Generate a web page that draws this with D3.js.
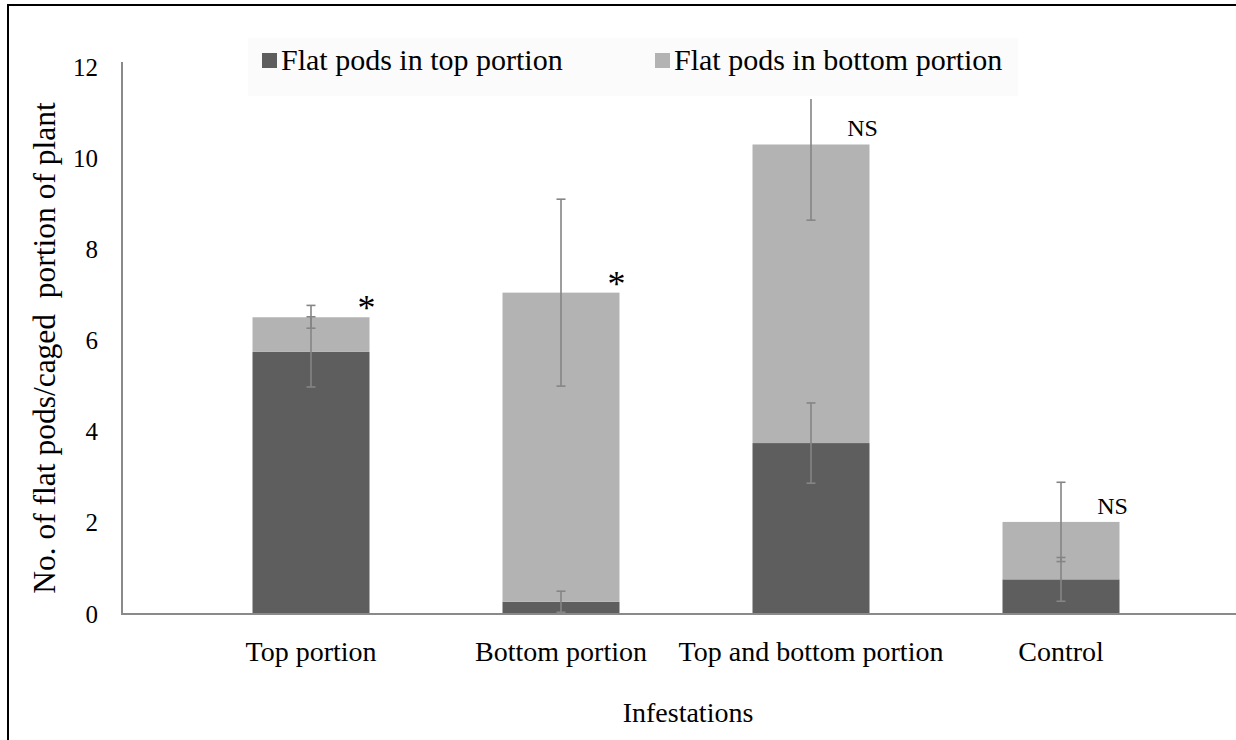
<!DOCTYPE html>
<html>
<head>
<meta charset="utf-8">
<script src="https://cdn.jsdelivr.net/npm/d3@7"></script>
<style>
  html, body { margin: 0; padding: 0; background: #fff; }
  svg { display: block; }
  svg text { font-family: "Times New Roman", "Liberation Serif", "DejaVu Serif", serif !important; fill: #000; }
</style>
</head>
<body>
<svg id="chart" width="1236" height="740"></svg>
<script>
// ---- data ----
const categories = ["Top portion", "Bottom portion", "Top and bottom portion", "Control"];
const seriesNames = ["Flat pods in top portion", "Flat pods in bottom portion"];
const topValues = [5.75, 0.27, 3.75, 0.76];
const bottomValues = [0.76, 6.78, 6.55, 1.26];
const topErr = [0.77, 0.23, 0.88, 0.48];
const bottomErrLow = [0.24, 2.05, 1.66, 0.87];
const bottomErrHigh = [0.26, 2.05, 1.0, 0.87];
const bottomCapHigh = [true, true, false, true];
const marks = ["*", "*", "NS", "NS"];
const yTicks = [0, 2, 4, 6, 8, 10, 12];

const colors = ["#5e5e5e", "#b3b3b3"];

const svg = d3.select("#chart");

// outer frame
svg.append("rect").attr("x", 8).attr("y", 5).attr("width", 1300).attr("height", 900)
  .attr("fill", "none").attr("stroke", "#000").attr("stroke-width", 2);

const y = d3.scaleLinear().domain([0, 12]).range([614, 67]);
const x = d3.scaleBand().domain(categories).range([186, 1186])
  .paddingInner(0.532).paddingOuter(0.266);

// legend background
svg.append("rect").attr("x", 248).attr("y", 38).attr("width", 770).attr("height", 58)
  .attr("fill", "#fbfbfb");

// bars
const stackData = categories.map((c, i) => ({ cat: c, top: topValues[i], bottom: bottomValues[i] }));
const stack = d3.stack().keys(["top", "bottom"])(stackData);

svg.append("g").selectAll("g").data(stack).join("g")
  .attr("fill", (d, i) => colors[i])
  .selectAll("rect").data(d => d).join("rect")
  .attr("x", d => x(d.data.cat))
  .attr("width", x.bandwidth())
  .attr("y", d => y(d[1]))
  .attr("height", d => y(d[0]) - y(d[1]));

// y axis
const yAxis = d3.axisLeft(y).tickValues(yTicks).tickSize(0).tickPadding(24);
const gy = svg.append("g").attr("transform", "translate(122,0)").call(yAxis);
gy.attr("font-family", null);
gy.select(".domain").attr("stroke", "#8a8a8a").attr("stroke-width", 2)
  .attr("d", `M0,${y(12) - 5}V${y(0)}`);
gy.selectAll("text").style("font-size", "25px");

// x baseline
svg.append("line").attr("x1", 121).attr("x2", 1236).attr("y1", y(0)).attr("y2", y(0))
  .attr("stroke", "#8a8a8a").attr("stroke-width", 2);

// x labels
const xAxis = d3.axisBottom(x).tickSize(0).tickPadding(27);
const gx = svg.append("g").attr("transform", `translate(0,${y(0)})`).call(xAxis);
gx.attr("font-family", null);
gx.select(".domain").remove();
gx.selectAll("text").style("font-size", "28px");

// error bars
const errColor = "#858585";
const capW = 9;
const eg = svg.append("g").attr("stroke", errColor).attr("stroke-width", 1.6);
categories.forEach((c, i) => {
  const cx = x(c) + x.bandwidth() / 2;
  const v1 = topValues[i];
  const lo1 = y(Math.max(0, v1 - topErr[i])), hi1 = y(v1 + topErr[i]);
  eg.append("line").attr("x1", cx).attr("x2", cx).attr("y1", lo1).attr("y2", hi1);
  eg.append("line").attr("x1", cx - capW / 2).attr("x2", cx + capW / 2).attr("y1", hi1).attr("y2", hi1);
  if (v1 - topErr[i] > 0) eg.append("line").attr("x1", cx - capW / 2).attr("x2", cx + capW / 2).attr("y1", lo1).attr("y2", lo1);
  const tot = topValues[i] + bottomValues[i];
  const lo2 = y(tot - bottomErrLow[i]), hi2 = y(tot + bottomErrHigh[i]);
  eg.append("line").attr("x1", cx).attr("x2", cx).attr("y1", lo2).attr("y2", hi2);
  eg.append("line").attr("x1", cx - capW / 2).attr("x2", cx + capW / 2).attr("y1", lo2).attr("y2", lo2);
  if (bottomCapHigh[i]) eg.append("line").attr("x1", cx - capW / 2).attr("x2", cx + capW / 2).attr("y1", hi2).attr("y2", hi2);
});

// significance marks
categories.forEach((c, i) => {
  const tot = topValues[i] + bottomValues[i];
  const isStar = marks[i] === "*";
  svg.append("text")
    .attr("x", x(c) + x.bandwidth() + (isStar ? -12 : -7))
    .attr("y", isStar ? y(tot) + 3 : y(tot) - 8)
    .attr("text-anchor", isStar ? "start" : "middle")
    .style("font-size", isStar ? "36px" : "24px")
    .text(marks[i]);
});

// legend
const legendX = [262, 655];
seriesNames.forEach((s, i) => {
  svg.append("rect").attr("x", legendX[i]).attr("y", 53).attr("width", 15).attr("height", 15)
    .attr("fill", colors[i]);
  svg.append("text").attr("x", legendX[i] + 19).attr("y", 70)
    .style("font-size", "30px").text(s);
});

// axis titles
svg.append("text").attr("x", 688).attr("y", 722).attr("text-anchor", "middle")
  .style("font-size", "28px").text("Infestations");
svg.append("text").attr("transform", "translate(55,348) rotate(-90)").attr("text-anchor", "middle")
  .style("font-size", "31.5px").style("white-space", "pre")
  .text("No. of flat pods/caged  portion of plant");
</script>
</body>
</html>
